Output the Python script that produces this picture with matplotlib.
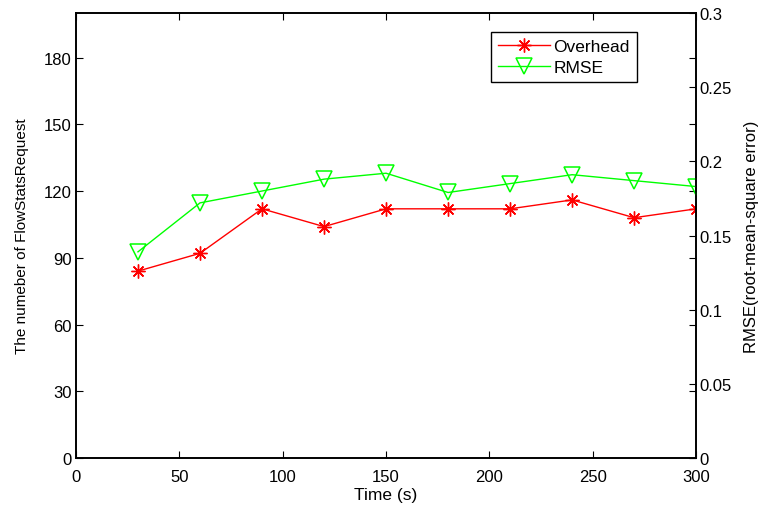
import matplotlib
matplotlib.use("Agg")
import matplotlib.pyplot as plt

plt.rcParams["font.family"] = ["Liberation Sans", "DejaVu Sans"]
plt.rcParams["font.size"] = 12

time_s = [30, 60, 90, 120, 150, 180, 210, 240, 270, 300]
overhead = [84, 92, 112, 104, 112, 112, 112, 116, 108, 112]
rmse = [0.139, 0.172, 0.180, 0.188, 0.192, 0.179, 0.185, 0.191, 0.187, 0.183]

fig = plt.figure(figsize=(7.65, 5.1), dpi=100)
ax1 = fig.add_axes([0.0993, 0.1, 0.8107, 0.8725])
ax2 = ax1.twinx()

# MATLAB-style asterisk: 4 crossing strokes
l1, = ax1.plot(time_s, overhead, color="#ff0000", lw=1, marker=(8, 2, 0), ms=10,
               mew=1.0, mec="#ff0000", label="Overhead")
l2, = ax2.plot(time_s, rmse, color="#00ff00", lw=1, marker="v", ms=11,
               mec="#00ff00", mfc="none", mew=1.1, label="RMSE")

ax1.set_xlim(0, 300)
ax1.set_ylim(0, 200)
ax1.set_xticks(range(0, 301, 50))
ax1.set_yticks(range(0, 181, 30))
ax2.set_ylim(0, 0.3)
ax2.set_yticks([0, 0.05, 0.1, 0.15, 0.2, 0.25, 0.3])
ax2.set_yticklabels(["0", "0.05", "0.1", "0.15", "0.2", "0.25", "0.3"])

ax1.tick_params(direction="in", top=True, right=True, length=5, width=0.8,
                labelsize=12, pad=3)
ax1.tick_params(axis="x", pad=8)
ax2.tick_params(direction="in", length=5, width=0.8, labelsize=12, pad=2)
for a in (ax1, ax2):
    for s in a.spines.values():
        s.set_linewidth(1.2)

ax1.set_xlabel("Time (s)", fontsize=12.5, labelpad=2)
ax1.set_ylabel("The numeber of FlowStatsRequest", fontsize=11, labelpad=11)
ax2.set_ylabel("RMSE(root-mean-square error)", fontsize=12, labelpad=9)

ax1.legend([l1, l2], ["Overhead", "RMSE"], loc="upper right",
           bbox_to_anchor=(0.904, 0.958), fancybox=False, edgecolor="black",
           framealpha=1, fontsize=12.5, borderpad=0.4, handlelength=3.0,
           labelspacing=0.35, handletextpad=0.2, borderaxespad=0)

fig.savefig("out.png", dpi=100)
